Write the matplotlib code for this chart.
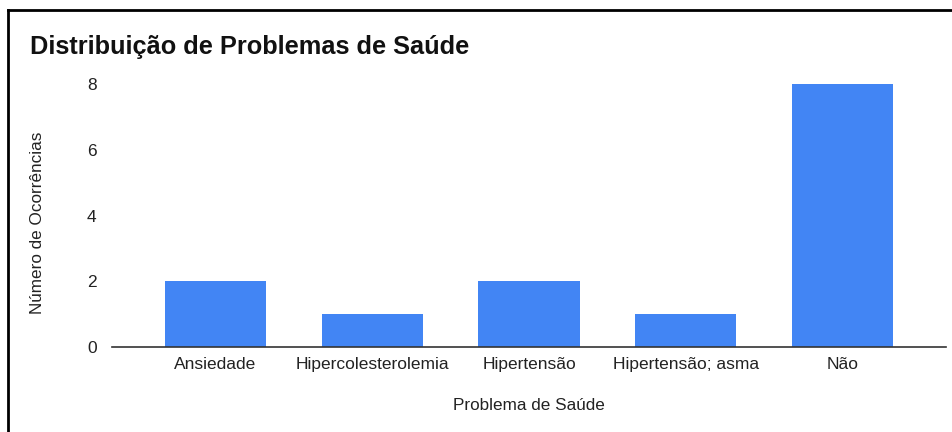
import matplotlib
matplotlib.use('Agg')
from matplotlib import pyplot as plt
from matplotlib.lines import Line2D

plt.rcParams['font.family'] = ['Liberation Sans', 'DejaVu Sans']

problemas = ['Ansiedade', 'Hipercolesterolemia', 'Hipertensão', 'Hipertensão; asma', 'Não']
ocorrencias = [2, 1, 2, 1, 8]
y_ticks = [0, 2, 4, 6, 8]

W, H = 952, 432
fig = plt.figure(figsize=(W / 100, H / 100), dpi=100)
ax = fig.add_axes([112 / W, 1 - 347 / H, (946 - 112) / W, (347 - 84) / H])

x = range(len(problemas))
ax.bar(x, ocorrencias, width=0.645, color='#4285F4', zorder=2, clip_on=False)
ax.set_xlim(-0.66, len(problemas) - 1 + 0.66)
ax.set_ylim(0, 8)
ax.set_yticks(y_ticks)
ax.set_xticks(list(x))
ax.set_xticklabels(problemas)

for s in ['top', 'right', 'left']:
    ax.spines[s].set_visible(False)
ax.spines['bottom'].set_color('#333333')
ax.spines['bottom'].set_linewidth(1.2)
ax.spines['bottom'].set_zorder(3)
ax.tick_params(axis='both', length=0, labelsize=12.5, colors='#222222')
ax.tick_params(axis='y', pad=11)
ax.tick_params(axis='x', pad=7)

fig.text(30 / W, 1 - 54 / H, 'Distribuição de Problemas de Saúde', fontsize=18.3,
         fontweight='bold', color='#111111', ha='left', va='baseline')
fig.text(38 / W, 1 - 223 / H, 'Número de Ocorrências', rotation=90, fontsize=12.3,
         color='#222222', ha='center', va='center')
fig.text(529 / W, 1 - 406 / H, 'Problema de Saúde', fontsize=12.3,
         color='#222222', ha='center', va='center')

# moldura (só em cima e à esquerda)
fig.add_artist(Line2D([8 / W, 1], [1 - 10 / H, 1 - 10 / H], color='black', lw=2, transform=fig.transFigure))
fig.add_artist(Line2D([8 / W, 8 / W], [0, 1 - 10 / H], color='black', lw=2, transform=fig.transFigure))

fig.savefig('out.png', dpi=100)
